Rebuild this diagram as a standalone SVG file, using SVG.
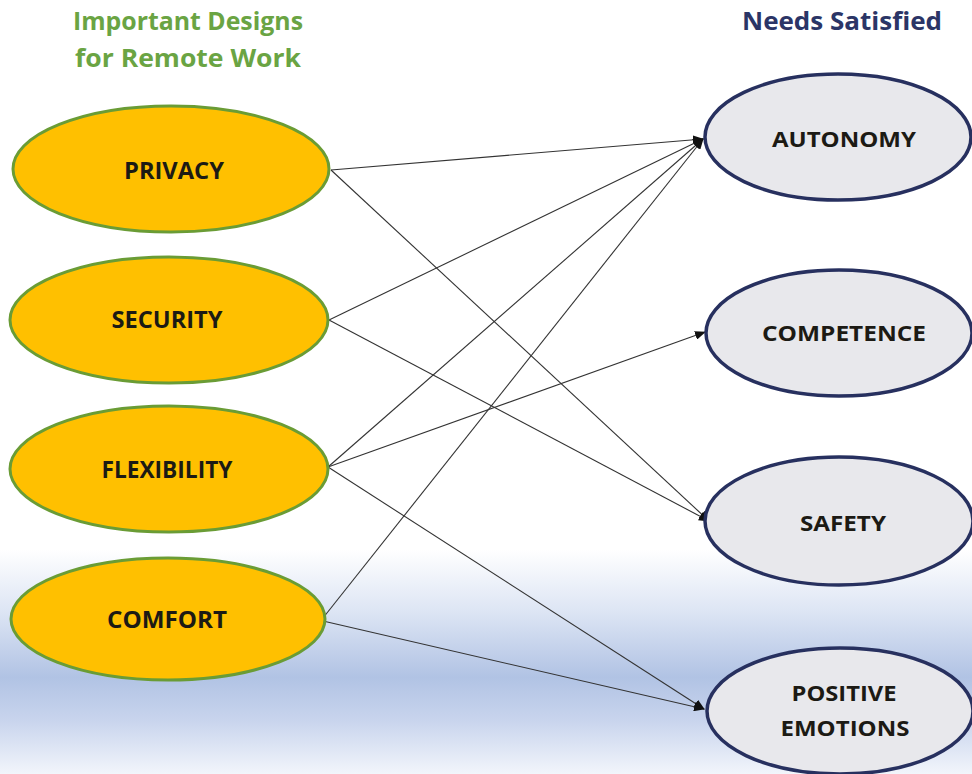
<svg xmlns="http://www.w3.org/2000/svg" width="972" height="774" viewBox="0 0 972 774">
  <defs>
    <linearGradient id="band" x1="0" y1="0" x2="0" y2="1">
      <stop offset="0" stop-color="#ffffff"/>
      <stop offset="0.71" stop-color="#ffffff"/>
      <stop offset="0.79" stop-color="#dde5f4"/>
      <stop offset="0.875" stop-color="#b1c3e4"/>
      <stop offset="0.93" stop-color="#c8d4ed"/>
      <stop offset="1" stop-color="#f2f5fb"/>
    </linearGradient>
    <marker id="arrow" markerUnits="userSpaceOnUse" markerWidth="11" markerHeight="9" refX="10" refY="4.5" orient="auto">
      <path d="M0,0 L11,4.5 L0,9 Z" fill="#111111"/>
    </marker>
  </defs>
  <style>
    .title { font-family: "Open Sans", "Liberation Sans", sans-serif; font-weight: 700; font-size: 25px; text-anchor: middle; }
    .design ellipse { fill: #ffc000; stroke: #6a9c35; stroke-width: 3; }
    .need ellipse { fill: #e8e8ec; stroke: #27305f; stroke-width: 3.5; }
    .label { font-family: "Open Sans", "Liberation Sans", sans-serif; font-weight: 700; text-anchor: middle; fill: #1c1a14; }
    .design .label { font-size: 24px; }
    .need .label { font-size: 22px; }
    .links line { stroke: #333333; stroke-width: 1.1; marker-end: url(#arrow); }
  </style>

  <rect x="0" y="0" width="972" height="774" fill="url(#band)"/>

  <!-- column headings -->
  <text class="title" x="188" y="30" fill="#6aa443" textLength="230" lengthAdjust="spacingAndGlyphs">Important Designs</text>
  <text class="title" x="188" y="67" fill="#6aa443" textLength="226" lengthAdjust="spacingAndGlyphs">for Remote Work</text>
  <text class="title" x="842" y="30" fill="#2b3566" textLength="200" lengthAdjust="spacingAndGlyphs">Needs Satisfied</text>

  <!-- connectors -->
  <g id="connectors" class="links">
    <line x1="331" y1="170" x2="703" y2="139"/>
    <line x1="331" y1="170" x2="709" y2="521"/>
    <line x1="329" y1="320" x2="703" y2="139"/>
    <line x1="329" y1="320" x2="709" y2="521"/>
    <line x1="328" y1="467" x2="703" y2="139"/>
    <line x1="328" y1="467" x2="705" y2="332"/>
    <line x1="328" y1="467" x2="704" y2="709"/>
    <line x1="323" y1="618" x2="703" y2="139"/>
    <line x1="323" y1="621" x2="704" y2="709"/>
  </g>

  <!-- design nodes -->
  <g id="privacy" class="design">
    <ellipse cx="171" cy="169" rx="158" ry="63"/>
    <text class="label" x="174" y="179" textLength="100" lengthAdjust="spacingAndGlyphs">PRIVACY</text>
  </g>
  <g id="security" class="design">
    <ellipse cx="169" cy="320" rx="159" ry="63"/>
    <text class="label" x="167" y="328" textLength="111" lengthAdjust="spacingAndGlyphs">SECURITY</text>
  </g>
  <g id="flexibility" class="design">
    <ellipse cx="169" cy="469" rx="159" ry="63"/>
    <text class="label" x="167" y="478" textLength="131" lengthAdjust="spacingAndGlyphs">FLEXIBILITY</text>
  </g>
  <g id="comfort" class="design">
    <ellipse cx="168" cy="619" rx="157" ry="61"/>
    <text class="label" x="167" y="628" textLength="120" lengthAdjust="spacingAndGlyphs">COMFORT</text>
  </g>

  <!-- need nodes -->
  <g id="autonomy" class="need">
    <ellipse cx="838" cy="137" rx="133" ry="63"/>
    <text class="label" x="844" y="147" textLength="144" lengthAdjust="spacingAndGlyphs">AUTONOMY</text>
  </g>
  <g id="competence" class="need">
    <ellipse cx="839" cy="333" rx="133" ry="63"/>
    <text class="label" x="844" y="341" textLength="164" lengthAdjust="spacingAndGlyphs">COMPETENCE</text>
  </g>
  <g id="safety" class="need">
    <ellipse cx="839" cy="521" rx="134" ry="64"/>
    <text class="label" x="843" y="531" textLength="86" lengthAdjust="spacingAndGlyphs">SAFETY</text>
  </g>
  <g id="positive-emotions" class="need">
    <ellipse cx="840" cy="711" rx="133" ry="63"/>
    <text class="label" x="844" y="701" textLength="105" lengthAdjust="spacingAndGlyphs">POSITIVE</text>
    <text class="label" x="845" y="736" textLength="129" lengthAdjust="spacingAndGlyphs">EMOTIONS</text>
  </g>
</svg>
